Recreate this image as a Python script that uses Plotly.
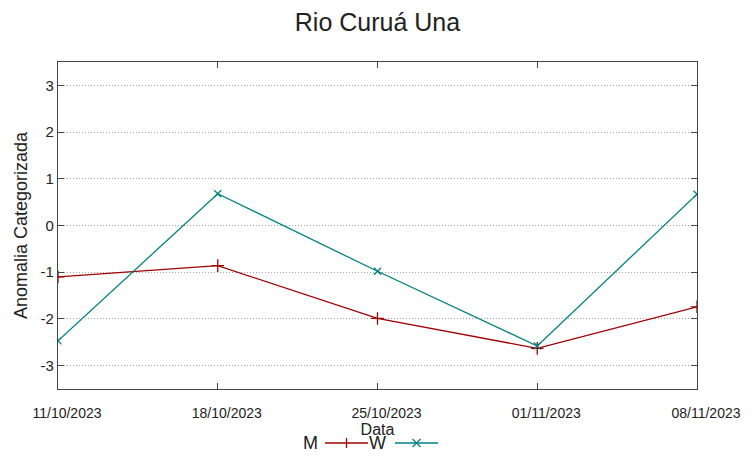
import plotly.graph_objects as go

dates = ["2023-10-11", "2023-10-18", "2023-10-25", "2023-11-01", "2023-11-08"]
tick_labels = ["11/10/2023", "18/10/2023", "25/10/2023", "01/11/2023", "08/11/2023"]
y_ticks = [-3, -2, -1, 0, 1, 2, 3]
y_tick_labels = ["-3", "-2", "-1", "0", "1", "2", "3"]
m_values = [-1.10, -0.86, -1.99, -2.63, -1.74]
w_values = [-2.47, 0.68, -0.98, -2.58, 0.67]

M_COLOR = "#a00000"
W_COLOR = "#008080"

# page body has an 8px margin, so the figure is placed at (8, 8)
OFF = 8
W, H = 752 - OFF, 459 - OFF
PL, PR, PT, PB = 58, 697, 62, 389  # plot area in window pixels
L, T = PL - OFF, PT - OFF
R = W - (PR - OFF)
B = H - (PB - OFF)
PW, PH = PR - PL, PB - PT


def px(x):
    return (x - PL) / PW


def py(y):
    return (PB - y) / PH


fig = go.Figure()
fig.add_trace(go.Scatter(x=dates, y=m_values, mode="lines+markers", name="M",
                         line=dict(color=M_COLOR, width=1.3),
                         marker=dict(symbol="cross-thin", size=9,
                                     line=dict(color=M_COLOR, width=1.3))))
fig.add_trace(go.Scatter(x=dates, y=w_values, mode="lines+markers", name="W",
                         line=dict(color=W_COLOR, width=1.3),
                         marker=dict(symbol="x-thin", size=7,
                                     line=dict(color=W_COLOR, width=1.3))))

font_main = "Liberation Sans, Arial, sans-serif"
font_narrow = "Liberation Sans Narrow, Liberation Sans, Arial Narrow, sans-serif"

fig.update_layout(
    width=W, height=H,
    margin=dict(l=L, r=R, t=T, b=B),
    paper_bgcolor="white", plot_bgcolor="white",
    showlegend=False,
    title=dict(text="Rio Curuá Una", x=0.5, xref="paper", xanchor="center",
               y=1 - (22 - OFF) / H, yanchor="middle",
               font=dict(family=font_main, size=25, color="#222")),
    font=dict(family=font_main, color="#222"),
)

fig.update_xaxes(
    type="date", range=[dates[0], dates[-1]],
    tickvals=dates, ticktext=tick_labels,
    ticks="inside", ticklen=6, tickcolor="#444", mirror="allticks",
    showline=True, linecolor="#444", linewidth=1.2,
    showgrid=False, zeroline=False,
    tickfont=dict(family=font_narrow, size=14, color="#222"),
    ticklabelstandoff=11, ticklabelshift=9,
    title=dict(text="Data", standoff=0,
               font=dict(family=font_narrow, size=16, color="#222")),
)
fig.update_yaxes(
    range=[-3.5, 3.5], tickvals=y_ticks, ticktext=y_tick_labels,
    ticks="inside", ticklen=6, tickcolor="#444", mirror="allticks",
    showline=True, linecolor="#444", linewidth=1.2,
    showgrid=True, gridcolor="#a0a0a0", griddash="1px,2px", gridwidth=1,
    zeroline=False,
    tickfont=dict(family=font_main, size=15, color="#222"),
    title=dict(text="Anomalia Categorizada", standoff=8,
               font=dict(family=font_main, size=18, color="#222")),
)

# Custom gnuplot-style legend: label then line sample
ly = 443
legend_items = [("M", 310, 325, 368, M_COLOR, "+"), ("W", 377, 395, 438, W_COLOR, "x")]
for name, tx, x0, x1, col, sym in legend_items:
    fig.add_annotation(text=name, x=px(tx), y=py(ly), xref="paper", yref="paper",
                       showarrow=False, xanchor="center", yanchor="middle",
                       font=dict(family=font_narrow, size=18, color="#222"))
    fig.add_shape(type="line", xref="paper", yref="paper",
                  x0=px(x0), x1=px(x1), y0=py(ly), y1=py(ly),
                  line=dict(color=col, width=1.3))
    cx = (x0 + x1) / 2
    if sym == "+":
        fig.add_shape(type="line", xref="paper", yref="paper",
                      x0=px(cx), x1=px(cx), y0=py(ly - 5), y1=py(ly + 5),
                      line=dict(color=col, width=1.3))
    else:
        for d in (1, -1):
            fig.add_shape(type="line", xref="paper", yref="paper",
                          x0=px(cx - 4), x1=px(cx + 4), y0=py(ly - 4 * d), y1=py(ly + 4 * d),
                          line=dict(color=col, width=1.3))

fig.write_html("out.html")
